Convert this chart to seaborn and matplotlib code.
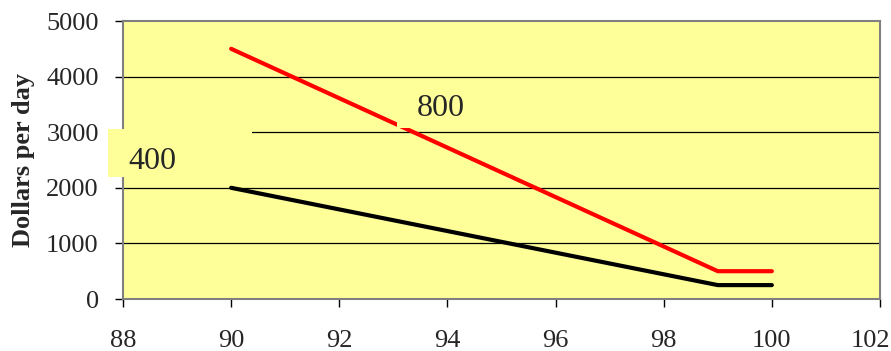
import matplotlib
matplotlib.use("Agg")
import matplotlib.pyplot as plt
from matplotlib.patches import Rectangle
from matplotlib.transforms import ScaledTranslation
import seaborn as sns
import pandas as pd

x_vals = [90, 99, 100]
red_800 = [4500, 500, 500]
black_400 = [2000, 250, 250]
series_names = ["800", "400"]
x_ticks = [88, 90, 92, 94, 96, 98, 100, 102]
y_ticks = [0, 1000, 2000, 3000, 4000, 5000]

df = pd.DataFrame({
    "x": x_vals * 2,
    "y": red_800 + black_400,
    "series": [series_names[0]] * 3 + [series_names[1]] * 3,
})

sns.set_theme(style="white")
plt.rcParams["font.family"] = ["Liberation Serif", "DejaVu Serif"]

fig = plt.figure(figsize=(8.91, 3.51), dpi=100)
ax = fig.add_axes([123 / 891, 1 - 299 / 351, (880 - 123) / 891, (299 - 21) / 351])
ax.set_facecolor("#FFFF99")

for v in y_ticks[1:-1]:
    ax.axhline(v, color="black", lw=0.9, zorder=1)

sns.lineplot(data=df, x="x", y="y", hue="series",
             palette={"800": "#FF0000", "400": "#000000"},
             linewidth=3.0, legend=False, ax=ax, zorder=3)

ax.set_xlim(88, 102)
ax.set_ylim(0, 5000)
ax.set_xticks(x_ticks)
ax.set_yticks(y_ticks)
ax.tick_params(axis="both", labelsize=19, length=5.5, width=1, color="black",
               direction="out", bottom=True, left=True)
ax.tick_params(axis="x", pad=17)
ax.tick_params(axis="y", pad=12)
for s in ax.spines.values():
    s.set_color("#808080")
    s.set_linewidth(1.5)
ax.set_xlabel("")
ax.set_ylabel("Dollars per day", fontsize=19, fontweight="bold", labelpad=8)
ax.grid(False)

# keep the last x tick label inside the figure, as in the reference
last_lbl = ax.xaxis.get_major_ticks()[-1].label1
last_lbl.set_horizontalalignment("right")
last_lbl.set_transform(last_lbl.get_transform() +
                       ScaledTranslation(0.10, 0, fig.dpi_scale_trans))

# label boxes (yellow boxes that hide what lies below them)
ax.add_patch(Rectangle((93.07, 3076), 1.64, 737, facecolor="#FFFF99",
                       edgecolor="none", zorder=4))
ax.text(93.88, 3420, series_names[0], fontsize=23, ha="center", va="center", zorder=5)

ax.add_patch(Rectangle((87.72, 2194), 2.67, 864, facecolor="#FFFF99",
                       edgecolor="none", zorder=4, clip_on=False))
ax.text(88.54, 2480, series_names[1], fontsize=23, ha="center", va="center",
        zorder=5, clip_on=False)

fig.savefig("out.png", dpi=100)
